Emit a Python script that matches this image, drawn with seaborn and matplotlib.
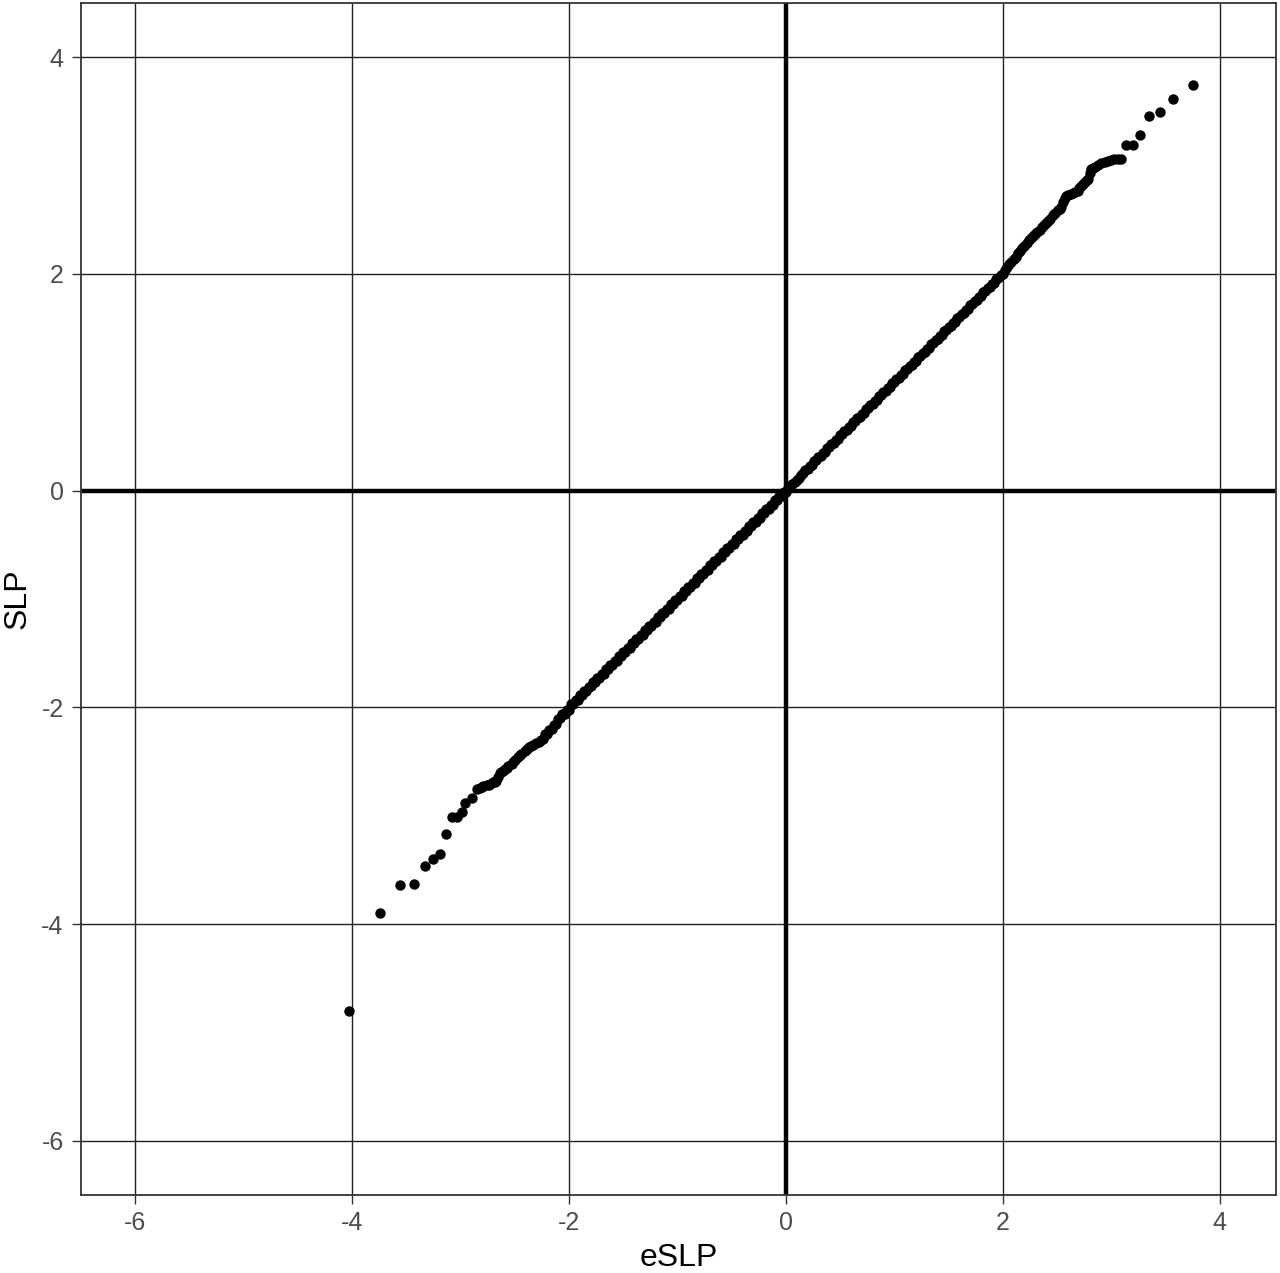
import numpy as np
import pandas as pd
import matplotlib
matplotlib.use('Agg')
import matplotlib.pyplot as plt
import seaborn as sb

# lower tail of the eSLP vs SLP scatter
lo_x = [-4.03, -3.74, -3.56, -3.43, -3.33, -3.25, -3.19, -3.13, -3.08, -3.03,
        -2.99, -2.96, -2.89, -2.85, -2.82, -2.80, -2.79, -2.76, -2.74, -2.73,
        -2.70, -2.685, -2.67, -2.655, -2.64, -2.625, -2.61, -2.59, -2.575, -2.56,
        -2.53, -2.515, -2.50, -2.47, -2.455, -2.44, -2.41, -2.39, -2.37, -2.35,
        -2.33, -2.305, -2.28, -2.26]
lo_y = [-4.80, -3.90, -3.64, -3.63, -3.46, -3.40, -3.35, -3.17, -3.01, -3.01,
        -2.97, -2.88, -2.84, -2.75, -2.74, -2.735, -2.73, -2.72, -2.715, -2.71,
        -2.69, -2.69, -2.68, -2.64, -2.61, -2.60, -2.59, -2.57, -2.555, -2.54,
        -2.52, -2.50, -2.49, -2.46, -2.44, -2.43, -2.40, -2.385, -2.37, -2.36,
        -2.35, -2.33, -2.32, -2.30]

# dense middle part, two interleaved runs of points
mid_x = [-2.24, -2.20, -2.16, -2.12, -2.08, -2.04, -2.00, -1.96, -1.92, -1.88,
         -1.84, -1.80, -1.76, -1.72, -1.68, -1.64, -1.60, -1.56, -1.52, -1.48,
         -1.44, -1.40, -1.36, -1.32, -1.28, -1.24, -1.20, -1.16, -1.12, -1.08,
         -1.04, -1.00, -0.96, -0.92, -0.88, -0.84, -0.80, -0.76, -0.72, -0.68,
         -0.64, -0.60, -0.56, -0.52, -0.48, -0.44, -0.40, -0.36, -0.32, -0.28,
         -0.24, -0.20, -0.16, -0.12, -0.08, -0.04, 0.00, 0.04, 0.08, 0.12,
         0.16, 0.20, 0.24, 0.28, 0.32, 0.36, 0.40, 0.44, 0.48, 0.52,
         0.56, 0.60, 0.64, 0.68, 0.72, 0.76, 0.80, 0.84, 0.88, 0.92,
         0.96, 1.00, 1.04, 1.08, 1.12, 1.16, 1.20, 1.24, 1.28, 1.32,
         1.36, 1.40, 1.44, 1.48, 1.52, 1.56, 1.60, 1.64, 1.68, 1.72,
         1.76, 1.80, 1.84, 1.88, 1.92, 1.96, 2.00, 2.04, 2.08, 2.12,
         2.16, 2.20, 2.24, 2.28, 2.32, 2.36, 2.40, 2.44, 2.48]
mid_y = [-2.29, -2.25, -2.20, -2.15, -2.10, -2.06, -2.02, -1.97, -1.93, -1.89,
         -1.85, -1.80, -1.77, -1.73, -1.69, -1.65, -1.61, -1.57, -1.53, -1.49,
         -1.45, -1.41, -1.37, -1.33, -1.29, -1.25, -1.21, -1.17, -1.13, -1.09,
         -1.05, -1.01, -0.97, -0.93, -0.89, -0.85, -0.81, -0.77, -0.73, -0.69,
         -0.65, -0.61, -0.57, -0.53, -0.49, -0.45, -0.41, -0.37, -0.33, -0.29,
         -0.25, -0.21, -0.17, -0.13, -0.09, -0.05, -0.01, 0.04, 0.08, 0.12,
         0.16, 0.20, 0.24, 0.28, 0.32, 0.36, 0.40, 0.44, 0.48, 0.52,
         0.56, 0.60, 0.64, 0.68, 0.72, 0.76, 0.80, 0.84, 0.88, 0.92,
         0.96, 1.00, 1.04, 1.08, 1.12, 1.16, 1.20, 1.24, 1.28, 1.32,
         1.36, 1.40, 1.44, 1.48, 1.52, 1.56, 1.60, 1.64, 1.68, 1.72,
         1.76, 1.80, 1.84, 1.88, 1.92, 1.96, 2.00, 2.06, 2.11, 2.16,
         2.21, 2.26, 2.31, 2.35, 2.39, 2.43, 2.47, 2.51, 2.56]

mid2_x = [-2.22, -2.18, -2.14, -2.10, -2.06, -2.02, -1.98, -1.94, -1.90, -1.86,
          -1.82, -1.78, -1.74, -1.70, -1.66, -1.62, -1.58, -1.54, -1.50, -1.46,
          -1.42, -1.38, -1.34, -1.30, -1.26, -1.22, -1.18, -1.14, -1.10, -1.06,
          -1.02, -0.98, -0.94, -0.90, -0.86, -0.82, -0.78, -0.74, -0.70, -0.66,
          -0.62, -0.58, -0.54, -0.50, -0.46, -0.42, -0.38, -0.34, -0.30, -0.26,
          -0.22, -0.18, -0.14, -0.10, -0.06, -0.02, 0.02, 0.06, 0.10, 0.14,
          0.18, 0.22, 0.26, 0.30, 0.34, 0.38, 0.42, 0.46, 0.50, 0.54,
          0.58, 0.62, 0.66, 0.70, 0.74, 0.78, 0.82, 0.86, 0.90, 0.94,
          0.98, 1.02, 1.06, 1.10, 1.14, 1.18, 1.22, 1.26, 1.30, 1.34,
          1.38, 1.42, 1.46, 1.50, 1.54, 1.58, 1.62, 1.66, 1.70, 1.74,
          1.78, 1.82, 1.86, 1.90, 1.94, 1.98, 2.02, 2.06, 2.10, 2.14,
          2.18, 2.22, 2.26, 2.30, 2.34, 2.38, 2.42, 2.46]
mid2_y = [-2.25, -2.21, -2.16, -2.11, -2.06, -2.02, -1.97, -1.93, -1.89, -1.85,
          -1.81, -1.77, -1.73, -1.69, -1.65, -1.61, -1.57, -1.53, -1.49, -1.45,
          -1.41, -1.37, -1.33, -1.29, -1.25, -1.21, -1.17, -1.13, -1.09, -1.05,
          -1.01, -0.97, -0.93, -0.89, -0.85, -0.81, -0.77, -0.73, -0.69, -0.65,
          -0.61, -0.57, -0.53, -0.49, -0.45, -0.41, -0.37, -0.33, -0.29, -0.25,
          -0.21, -0.17, -0.13, -0.09, -0.05, -0.01, 0.02, 0.06, 0.10, 0.14,
          0.19, 0.23, 0.27, 0.31, 0.35, 0.39, 0.43, 0.47, 0.51, 0.55,
          0.59, 0.63, 0.67, 0.71, 0.75, 0.79, 0.83, 0.87, 0.91, 0.95,
          0.99, 1.03, 1.07, 1.11, 1.15, 1.19, 1.23, 1.27, 1.31, 1.35,
          1.39, 1.43, 1.47, 1.51, 1.55, 1.59, 1.63, 1.67, 1.71, 1.75,
          1.79, 1.83, 1.87, 1.91, 1.95, 1.99, 2.04, 2.09, 2.14, 2.19,
          2.24, 2.29, 2.33, 2.37, 2.41, 2.45, 2.49, 2.54]

# upper tail
hi_x = [2.51, 2.525, 2.54, 2.555, 2.57, 2.585, 2.60, 2.625, 2.65, 2.67,
        2.69, 2.705, 2.72, 2.74, 2.76, 2.775, 2.79, 2.80, 2.81, 2.83,
        2.85, 2.88, 2.91, 2.94, 2.97, 3.00, 3.03, 3.06, 3.09, 3.14,
        3.20, 3.27, 3.35, 3.45, 3.57, 3.75]
hi_y = [2.59, 2.60, 2.62, 2.66, 2.70, 2.72, 2.73, 2.74, 2.75, 2.76,
        2.77, 2.79, 2.81, 2.83, 2.85, 2.87, 2.88, 2.93, 2.97, 2.98,
        2.99, 3.01, 3.02, 3.03, 3.04, 3.05, 3.06, 3.06, 3.06, 3.19,
        3.19, 3.28, 3.46, 3.49, 3.61, 3.74]

ticks = [-6, -4, -2, 0, 2, 4]

df = pd.DataFrame({'eSLP': lo_x + mid_x + mid2_x + hi_x,
                   'SLP': lo_y + mid_y + mid2_y + hi_y})

sb.set_style('white')
plt.rcParams['font.family'] = ['Liberation Sans', 'DejaVu Sans']
plt.rcParams['axes.unicode_minus'] = False

fig = plt.figure(figsize=(12.8, 12.73), dpi=100)
ax = fig.add_axes([0.0633, 0.0613, 0.9336, 0.9363])

ax.axhline(0, color='black', lw=3.2, zorder=2)
ax.axvline(0, color='black', lw=3.2, zorder=2)
sb.scatterplot(data=df, x='eSLP', y='SLP', color='black', s=56, linewidth=0, ax=ax, zorder=3)

ax.set_xlim(-6.5, 4.52)
ax.set_ylim(-6.5, 4.5)
ax.set_xticks(ticks)
ax.set_yticks(ticks)
ax.grid(True, color='#222222', lw=1.0, zorder=1)
ax.set_axisbelow(True)
for sp in ax.spines.values():
    sp.set_color('#333333')
    sp.set_linewidth(1.3)
ax.tick_params(axis='both', which='major', length=6.5, width=1.0, color='#333333',
               labelsize=18, labelcolor='#4D4D4D', bottom=True, left=True)
ax.tick_params(axis='x', pad=5)
ax.tick_params(axis='y', pad=6)
ax.set_xlabel('eSLP', fontsize=23, color='black', labelpad=6)
ax.set_ylabel('SLP', fontsize=23, color='black', labelpad=6)

plt.savefig('out.png', dpi=100)
